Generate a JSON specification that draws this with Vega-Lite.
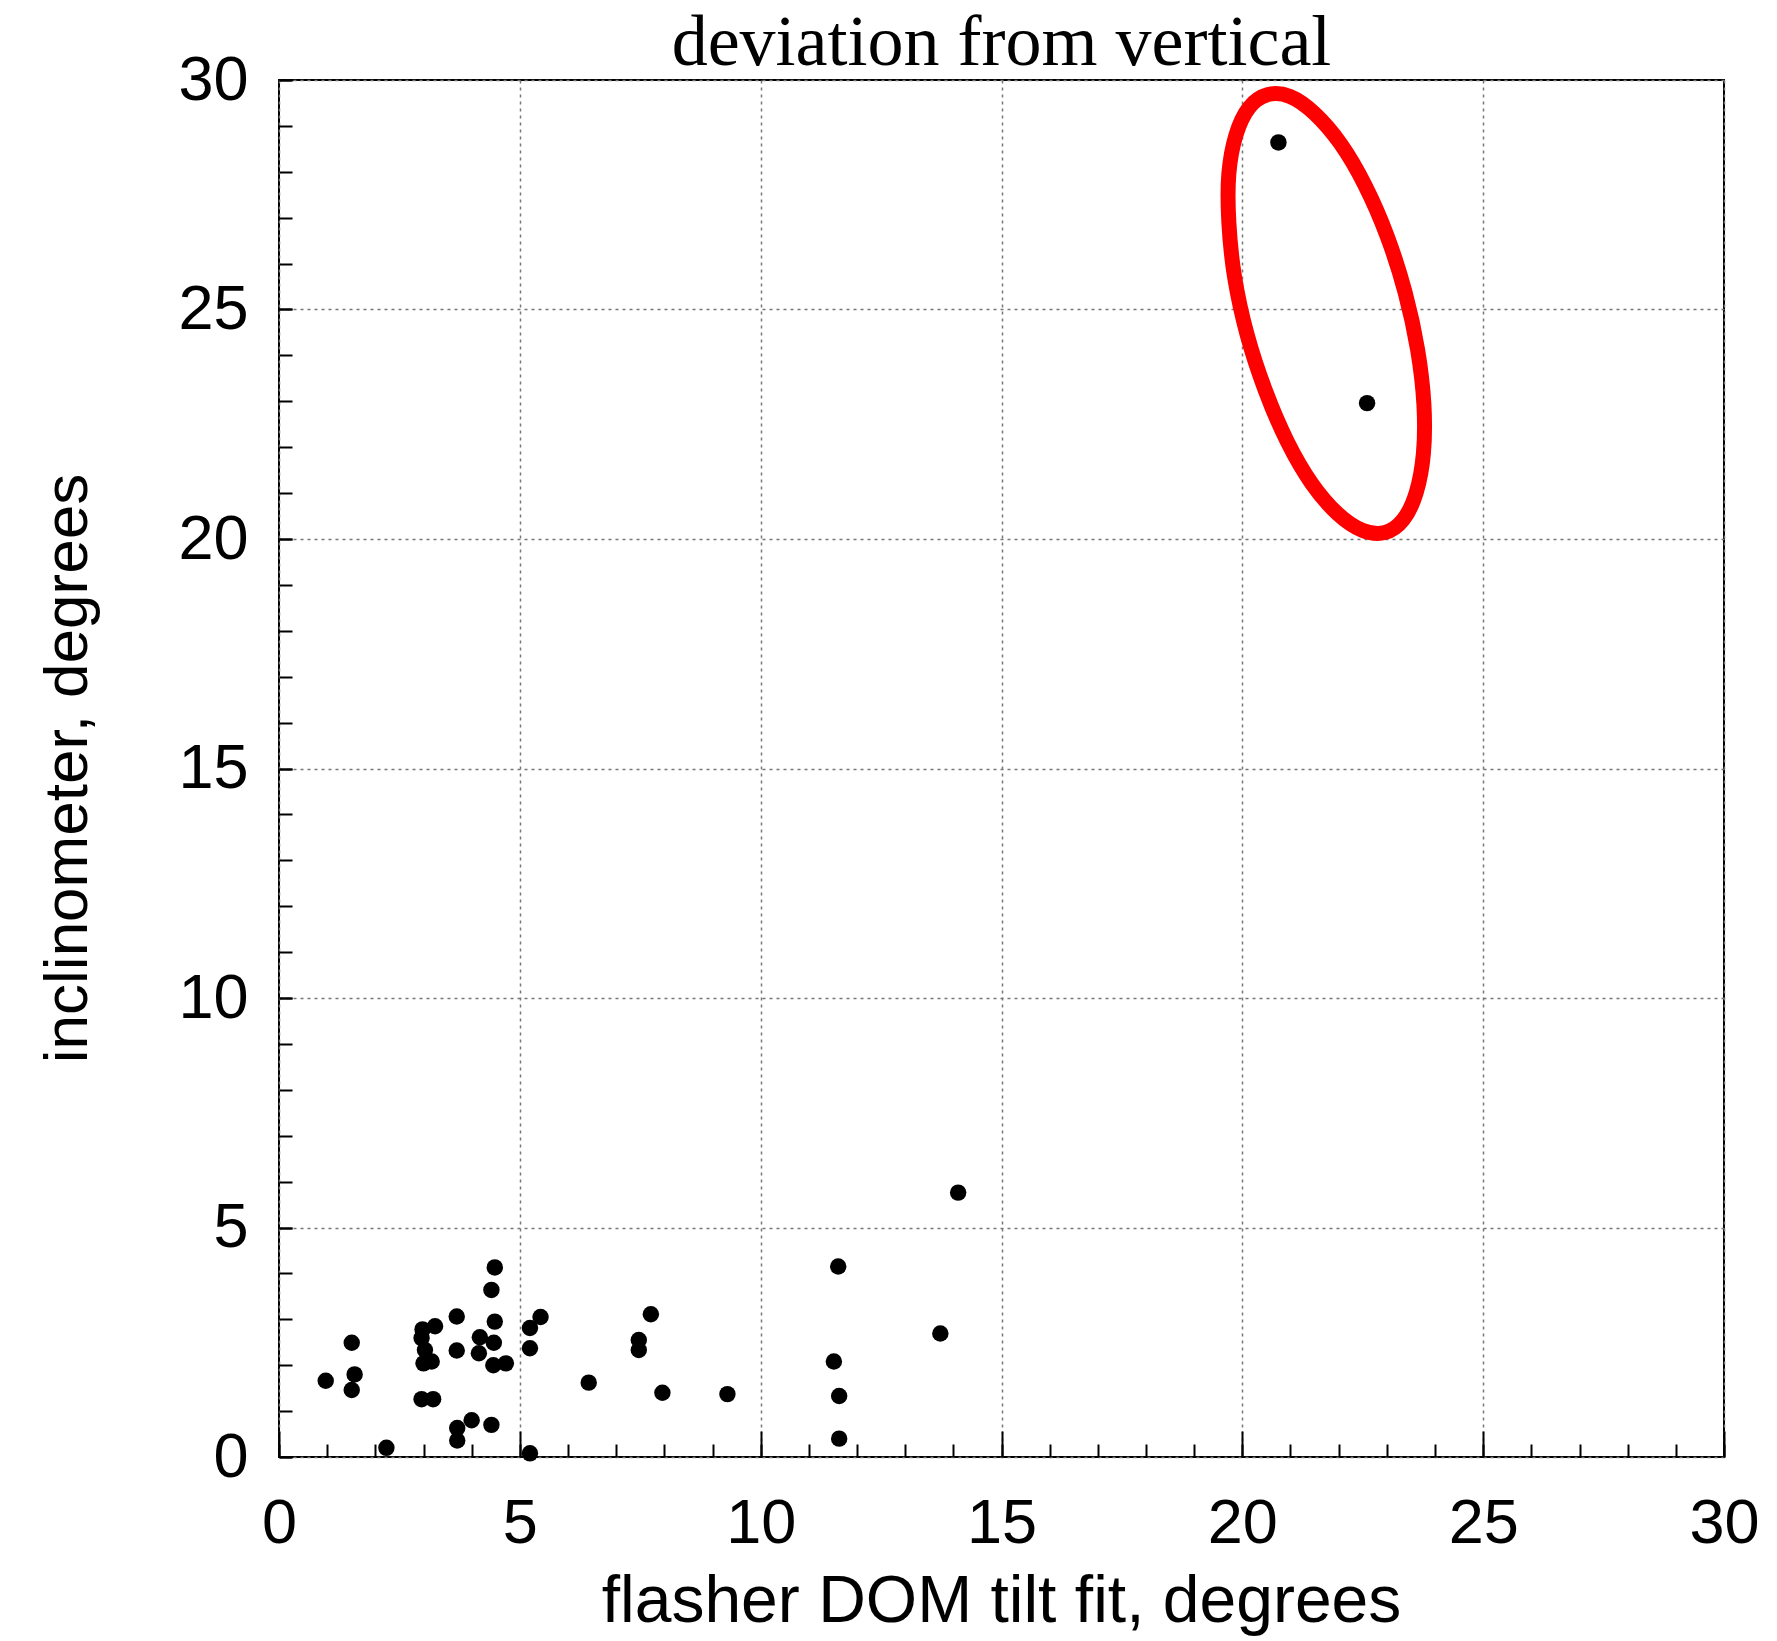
{
  "$schema": "https://vega.github.io/schema/vega-lite/v6.json",
  "width": 1445,
  "height": 1377,
  "autosize": {"type": "none"},
  "padding": {"left": 279, "top": 80, "right": 53, "bottom": 184},
  "background": "white",
  "config": {
    "view": {"stroke": "black", "strokeWidth": 2},
    "axis": {"labelFont": "Liberation Sans", "titleFont": "Liberation Sans", "labelColor": "black", "titleColor": "black", "titleFontWeight": "normal"}
  },
  "layer": [
    {
      "data": {
        "values": [
          {"flasher": 0.97, "inclinometer": 1.66},
          {"flasher": 1.51, "inclinometer": 2.49},
          {"flasher": 1.57, "inclinometer": 1.80},
          {"flasher": 1.51, "inclinometer": 1.46},
          {"flasher": 2.23, "inclinometer": 0.20},
          {"flasher": 2.98, "inclinometer": 2.78},
          {"flasher": 3.24, "inclinometer": 2.85},
          {"flasher": 2.96, "inclinometer": 2.59},
          {"flasher": 3.03, "inclinometer": 2.33},
          {"flasher": 3.00, "inclinometer": 2.04},
          {"flasher": 3.17, "inclinometer": 2.08},
          {"flasher": 2.96, "inclinometer": 1.26},
          {"flasher": 3.20, "inclinometer": 1.26},
          {"flasher": 3.69, "inclinometer": 3.06},
          {"flasher": 3.69, "inclinometer": 2.32},
          {"flasher": 4.17, "inclinometer": 2.61},
          {"flasher": 4.15, "inclinometer": 2.26},
          {"flasher": 4.48, "inclinometer": 4.13},
          {"flasher": 4.41, "inclinometer": 3.64},
          {"flasher": 4.48, "inclinometer": 2.95},
          {"flasher": 4.46, "inclinometer": 2.49},
          {"flasher": 4.45, "inclinometer": 2.00},
          {"flasher": 4.71, "inclinometer": 2.04},
          {"flasher": 4.00, "inclinometer": 0.80},
          {"flasher": 3.70, "inclinometer": 0.63},
          {"flasher": 3.70, "inclinometer": 0.36},
          {"flasher": 4.41, "inclinometer": 0.70},
          {"flasher": 5.21, "inclinometer": 0.08},
          {"flasher": 5.21, "inclinometer": 2.81},
          {"flasher": 5.21, "inclinometer": 2.37},
          {"flasher": 5.43, "inclinometer": 3.05},
          {"flasher": 6.43, "inclinometer": 1.62},
          {"flasher": 7.72, "inclinometer": 3.11},
          {"flasher": 7.47, "inclinometer": 2.55},
          {"flasher": 7.47, "inclinometer": 2.33},
          {"flasher": 7.96, "inclinometer": 1.40},
          {"flasher": 9.31, "inclinometer": 1.37},
          {"flasher": 14.10, "inclinometer": 5.76},
          {"flasher": 11.61, "inclinometer": 4.15},
          {"flasher": 13.73, "inclinometer": 2.69},
          {"flasher": 11.52, "inclinometer": 2.08},
          {"flasher": 11.63, "inclinometer": 1.33},
          {"flasher": 11.63, "inclinometer": 0.40},
          {"flasher": 20.75, "inclinometer": 28.64},
          {"flasher": 22.59, "inclinometer": 22.96}
        ]
      },
      "mark": {"type": "circle", "size": 270, "color": "black", "opacity": 1},
      "encoding": {
        "x": {
          "field": "flasher", "type": "quantitative",
          "scale": {"domain": [0, 30], "nice": false, "zero": false},
          "axis": {
            "orient": "bottom",
            "values": [0, 5, 10, 15, 20, 25, 30],
            "domain": false,
            "grid": true, "gridDash": [3, 4], "gridColor": "#777", "gridWidth": 1.5,
            "ticks": true, "tickSize": -26, "tickColor": "black", "tickWidth": 2,
            "labelFontSize": 63, "labelPadding": 61, "labelFlush": false,
            "title": "flasher DOM tilt fit, degrees",
            "titleFontSize": 66, "titleX": 722, "titleY": 164,
            "titleAlign": "center", "titleBaseline": "alphabetic"
          }
        },
        "y": {
          "field": "inclinometer", "type": "quantitative",
          "scale": {"domain": [0, 30], "nice": false, "zero": false},
          "axis": {
            "orient": "left",
            "values": [0, 5, 10, 15, 20, 25, 30],
            "domain": false,
            "grid": true, "gridDash": [3, 4], "gridColor": "#777", "gridWidth": 1.5,
            "ticks": true, "tickSize": -13, "tickColor": "black", "tickWidth": 2,
            "labelFontSize": 63, "labelPadding": 44, "labelFlush": false,
            "title": "inclinometer, degrees",
            "titleFontSize": 62, "titleX": -193, "titleY": 688, "titleAngle": -90,
            "titleAlign": "center", "titleBaseline": "alphabetic"
          }
        }
      }
    },
    {
      "data": {
        "values": [
          {"ex": 22.96, "ey": 20.14, "k": 0},
          {"ex": 23.34, "ey": 20.42, "k": 1},
          {"ex": 23.61, "ey": 21.01, "k": 2},
          {"ex": 23.76, "ey": 21.87, "k": 3},
          {"ex": 23.77, "ey": 22.93, "k": 4},
          {"ex": 23.64, "ey": 24.12, "k": 5},
          {"ex": 23.38, "ey": 25.37, "k": 6},
          {"ex": 23.01, "ey": 26.59, "k": 7},
          {"ex": 22.55, "ey": 27.70, "k": 8},
          {"ex": 22.04, "ey": 28.61, "k": 9},
          {"ex": 21.50, "ey": 29.27, "k": 10},
          {"ex": 20.99, "ey": 29.64, "k": 11},
          {"ex": 20.52, "ey": 29.68, "k": 12},
          {"ex": 20.14, "ey": 29.40, "k": 13},
          {"ex": 19.87, "ey": 28.81, "k": 14},
          {"ex": 19.72, "ey": 27.96, "k": 15},
          {"ex": 19.72, "ey": 26.90, "k": 16},
          {"ex": 19.84, "ey": 25.70, "k": 17},
          {"ex": 20.10, "ey": 24.45, "k": 18},
          {"ex": 20.48, "ey": 23.23, "k": 19},
          {"ex": 20.93, "ey": 22.13, "k": 20},
          {"ex": 21.44, "ey": 21.21, "k": 21},
          {"ex": 21.98, "ey": 20.55, "k": 22},
          {"ex": 22.49, "ey": 20.19, "k": 23}
        ]
      },
      "mark": {"type": "line", "color": "#ff0000", "strokeWidth": 15, "interpolate": "cardinal-closed"},
      "encoding": {
        "order": {"field": "k", "type": "quantitative"},
        "x": {
          "field": "ex", "type": "quantitative",
          "axis": {
            "orient": "bottom",
            "values": [0,1,2,3,4,5,6,7,8,9,10,11,12,13,14,15,16,17,18,19,20,21,22,23,24,25,26,27,28,29,30],
            "domain": false, "grid": false, "labels": false,
            "ticks": true, "tickSize": -13, "tickColor": "black", "tickWidth": 2,
            "title": null
          }
        },
        "y": {
          "field": "ey", "type": "quantitative",
          "axis": {
            "orient": "left",
            "values": [0,1,2,3,4,5,6,7,8,9,10,11,12,13,14,15,16,17,18,19,20,21,22,23,24,25,26,27,28,29,30],
            "domain": false, "grid": false, "labels": false,
            "ticks": true, "tickSize": -13, "tickColor": "black", "tickWidth": 2,
            "title": null
          }
        }
      }
    },
    {
      "data": {"values": [{"label": "deviation from vertical"}]},
      "mark": {
        "type": "text",
        "font": "Liberation Serif",
        "fontSize": 72,
        "color": "black",
        "align": "center",
        "baseline": "alphabetic",
        "dy": -15
      },
      "encoding": {
        "text": {"field": "label", "type": "nominal"},
        "x": {"datum": 15, "type": "quantitative", "axis": null},
        "y": {"datum": 30, "type": "quantitative", "axis": null}
      }
    }
  ],
  "resolve": {"axis": {"x": "independent", "y": "independent"}}
}
